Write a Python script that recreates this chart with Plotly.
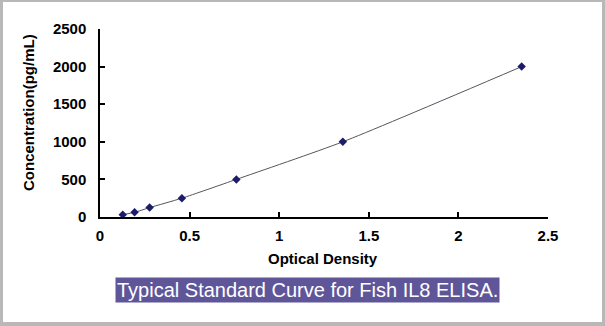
import plotly.graph_objects as go

od = [0.127, 0.193, 0.277, 0.457, 0.761, 1.355, 2.353]
conc = [31.25, 62.5, 125, 250, 500, 1000, 2000]
xticks = [0, 0.5, 1, 1.5, 2, 2.5]
xticktext = ["0", "0.5", "1", "1.5", "2", "2.5"]
yticks = [0, 500, 1000, 1500, 2000, 2500]

W, H = 605, 326
L, R, T, B = 100, 57, 29, 109
pw, ph = W - L - R, H - T - B

def px(xp):
    return (xp - L) / pw

def py(yp):
    return (H - B - yp) / ph

font = "Liberation Sans, Arial, sans-serif"

fig = go.Figure()
fig.add_trace(go.Scatter(
    x=od, y=conc, mode="lines+markers",
    line=dict(color="#55555f", width=1, shape="spline", smoothing=0.6),
    marker=dict(symbol="diamond", size=6.5, color="#1c1c6b"),
    showlegend=False,
))

axis_common = dict(
    showline=True, linecolor="black", linewidth=1.5,
    ticks="inside", ticklen=5, tickwidth=1.5, tickcolor="black",
    showgrid=False, zeroline=False,
    tickfont=dict(family=font, size=15, color="black", weight="bold"),
)
fig.update_xaxes(range=[0, 2.5], tickvals=xticks, ticktext=xticktext,
                 ticklabelstandoff=4, **axis_common)
fig.update_yaxes(range=[0, 2500], tickvals=yticks, ticklabelstandoff=9, **axis_common)

fig.update_layout(
    width=W, height=H,
    margin=dict(l=L, r=R, t=T, b=B),
    paper_bgcolor="#b8b8b8",
    plot_bgcolor="white",
    shapes=[dict(type="rect", xref="paper", yref="paper", layer="below",
                 x0=px(3), x1=px(602), y0=py(322), y1=py(2),
                 fillcolor="white", line=dict(width=0))],
    annotations=[
        dict(text="Optical Density", xref="paper", yref="paper",
             x=px(323), y=py(258), showarrow=False, xanchor="center", yanchor="middle",
             font=dict(family=font, size=15, color="black", weight="bold")),
        dict(text="Concentration(pg/mL)", xref="paper", yref="paper",
             x=px(28), y=py(113), showarrow=False, textangle=-90,
             xanchor="center", yanchor="middle",
             font=dict(family=font, size=15, color="black", weight="bold")),
        dict(text="Typical Standard Curve for Fish IL8 ELISA.", xref="paper", yref="paper",
             x=px(307.5), y=py(289.5), showarrow=False, xanchor="center", yanchor="middle",
             bgcolor="#5f569a", borderpad=1,
             font=dict(family=font, size=20, color="white")),
    ],
)

fig.write_html("out.html")
